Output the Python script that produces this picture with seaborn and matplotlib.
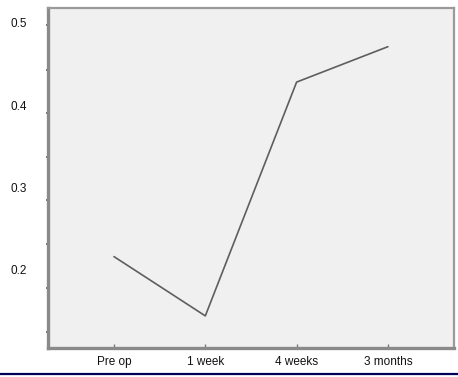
import matplotlib
matplotlib.use("Agg")
import matplotlib.pyplot as plt
from matplotlib.lines import Line2D
import seaborn as sns
import pandas as pd

# Mean score at each follow-up visit
visits = ["Pre op", "1 week", "4 weeks", "3 months"]
scores = [0.216, 0.144, 0.428, 0.471]
y_labels = [0.2, 0.3, 0.4, 0.5]

sns.set_style("white")
plt.rcParams["font.family"] = ["Liberation Sans", "DejaVu Sans"]

df = pd.DataFrame({"visit": visits, "score": scores})

W, H = 458, 377
fig = plt.figure(figsize=(W / 100, H / 100), dpi=100)
fig.patch.set_facecolor("white")
ax = fig.add_axes([48 / W, (H - 348) / H, (454 - 48) / W, (348 - 8) / H])
ax.set_facecolor("#f0f0f0")

sns.lineplot(data=df, x="visit", y="score", ax=ax, color="#5e5e5e",
             linewidth=1.2, sort=False)

ax.set_xlim(-0.723, 3.724)
ax.set_ylim(0.105, 0.518)
ax.set_xlabel("")
ax.set_ylabel("")

# labelled values without marks; small unlabelled marks along the left edge
ax.set_yticks(y_labels)
ax.set_yticklabels([f"{v:.1f}" for v in y_labels])
ax.set_yticks([0.4977, 0.4430, 0.3908, 0.3373, 0.2851, 0.2316, 0.1781, 0.1247],
              minor=True)
ax.tick_params(axis="y", which="major", length=0, pad=15, labelsize=8.5,
               labelcolor="#111111")
ax.tick_params(axis="y", which="minor", length=2.5, width=1.2, direction="inout",
               color="#555555", left=True)
ax.tick_params(axis="x", which="major", length=3, width=1.0, direction="in",
               color="#777777", pad=6, labelsize=8.5, labelcolor="#111111",
               bottom=True)

for side in ("left", "bottom"):
    ax.spines[side].set_color("#8a8a8a")
    ax.spines[side].set_linewidth(2.4)
for side in ("top", "right"):
    ax.spines[side].set_color("#9a9a9a")
    ax.spines[side].set_linewidth(1.6)
ax.grid(False)

# rule along the foot of the figure
fig.add_artist(Line2D([0, 1], [(H - 374) / H] * 2, color="#00005a",
                      linewidth=1.6, transform=fig.transFigure))

fig.savefig("out.png", dpi=100, facecolor="white")
